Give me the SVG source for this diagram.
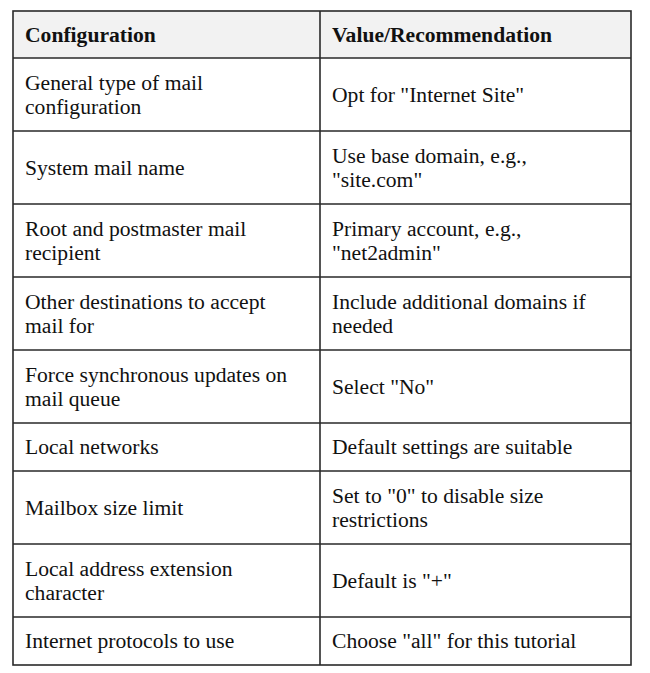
<svg xmlns="http://www.w3.org/2000/svg" width="650" height="673" viewBox="0 0 650 673">
<style>
text{font-family:"Liberation Serif","Times New Roman",serif;font-size:21.6px;fill:#111}
.h{font-weight:bold}
.ln{stroke:#2a2a2a;stroke-width:1.6;fill:none}
</style>
<rect width="650" height="673" fill="#fff"/>
<rect x="13" y="11" width="618" height="47" fill="#f2f2f2"/>
<g id="grid">
<rect class="ln" x="13" y="11" width="618" height="654"/>
<line class="ln" x1="320" y1="11" x2="320" y2="665"/>
<path class="ln" d="M13 58H631M13 131H631M13 204H631M13 277H631M13 350H631M13 423H631M13 471H631M13 544H631M13 617H631"/>
</g>
<g id="header">
<text class="h" x="25" y="41.5">Configuration</text>
<text class="h" x="332" y="41.5">Value/Recommendation</text>
</g>
<g id="row1">
<text x="25" y="89.5">General type of mail</text>
<text x="25" y="113.5">configuration</text>
<text x="332" y="101.5">Opt for "Internet Site"</text>
</g>
<g id="row2">
<text x="25" y="174.5">System mail name</text>
<text x="332" y="162.5">Use base domain, e.g.,</text>
<text x="332" y="186.5">"site.com"</text>
</g>
<g id="row3">
<text x="25" y="235.5">Root and postmaster mail</text>
<text x="25" y="259.5">recipient</text>
<text x="332" y="235.5">Primary account, e.g.,</text>
<text x="332" y="259.5">"net2admin"</text>
</g>
<g id="row4">
<text x="25" y="308.5">Other destinations to accept</text>
<text x="25" y="332.5">mail for</text>
<text x="332" y="308.5">Include additional domains if</text>
<text x="332" y="332.5">needed</text>
</g>
<g id="row5">
<text x="25" y="381.5">Force synchronous updates on</text>
<text x="25" y="405.5">mail queue</text>
<text x="332" y="393.5">Select "No"</text>
</g>
<g id="row6">
<text x="25" y="454">Local networks</text>
<text x="332" y="454">Default settings are suitable</text>
</g>
<g id="row7">
<text x="25" y="514.5">Mailbox size limit</text>
<text x="332" y="502.5">Set to "0" to disable size</text>
<text x="332" y="526.5">restrictions</text>
</g>
<g id="row8">
<text x="25" y="575.5">Local address extension</text>
<text x="25" y="599.5">character</text>
<text x="332" y="587.5">Default is "+"</text>
</g>
<g id="row9">
<text x="25" y="648">Internet protocols to use</text>
<text x="332" y="648">Choose "all" for this tutorial</text>
</g>
</svg>
